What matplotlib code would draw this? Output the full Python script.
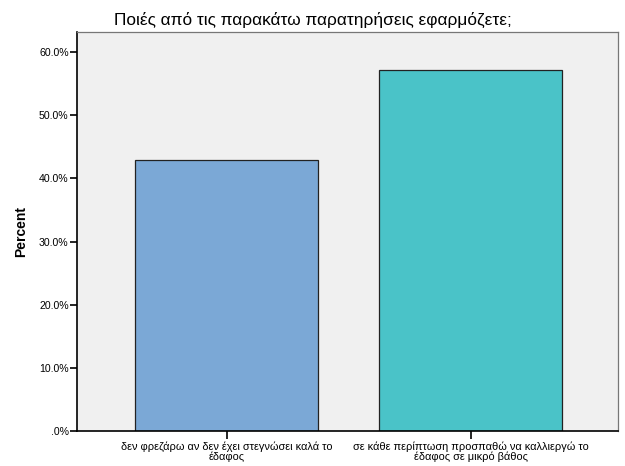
import matplotlib
matplotlib.use("Agg")
import matplotlib.pyplot as plt
from matplotlib.ticker import FuncFormatter

plt.rcParams['font.family'] = ['Liberation Sans', 'DejaVu Sans']

title = "Ποιές από τις παρακάτω παρατηρήσεις εφαρμόζετε;"
categories = ["δεν φρεζάρω αν δεν έχει στεγνώσει καλά το\nέδαφος",
              "σε κάθε περίπτωση προσπαθώ να καλλιεργώ το\nέδαφος σε μικρό βάθος"]
values = [42.86, 57.14]
colors = ["#7ba8d6", "#4ac3c8"]
yticks = [0, 10, 20, 30, 40, 50, 60]

fig = plt.figure(figsize=(6.25, 4.66), dpi=100)
ax = fig.add_axes([77/625, 1-431/466, (618-77)/625, (431-32)/466])
ax.set_facecolor("#f0f0f0")
x = list(range(len(categories)))
ax.bar(x, values, width=0.75, color=colors, edgecolor="#222222", linewidth=0.9, zorder=2)
ax.set_xlim(-0.615, 1.605)
ax.set_ylim(0, 63.2)
ax.set_yticks(yticks)
ax.yaxis.set_major_formatter(FuncFormatter(lambda v, p: ".0%" if v == 0 else f"{v:.1f}%"))
ax.set_xticks(x)
ax.set_xticklabels(categories, fontsize=7.95, linespacing=0.92)
ax.tick_params(axis='y', labelsize=7.6, length=5, width=1.2, color="#000000", pad=1)
ax.tick_params(axis='x', length=6, width=1.2, color="#000000", pad=1.5)
for s in ['left', 'bottom']:
    ax.spines[s].set_color("#000000")
    ax.spines[s].set_linewidth(1.2)
for s in ['top', 'right']:
    ax.spines[s].set_color("#777777")
    ax.spines[s].set_linewidth(0.9)
ax.set_ylabel("Percent", fontsize=10, fontweight='bold', labelpad=8)
fig.text(0.5, 1-20/466, title, ha='center', va='center', fontsize=12.4)
fig.savefig("out.png", dpi=100)
